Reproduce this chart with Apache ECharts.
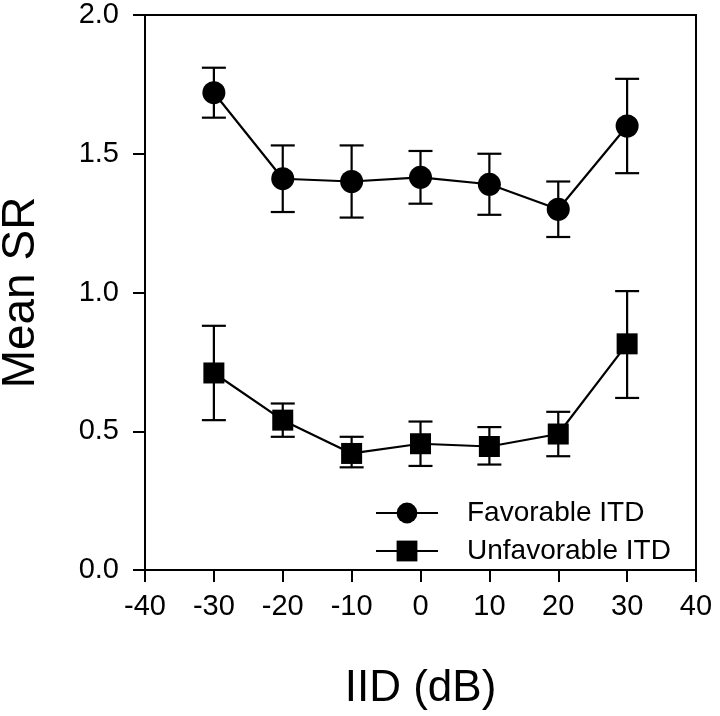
<!DOCTYPE html>
<html>
<head>
<meta charset="utf-8">
<script src="https://cdn.jsdelivr.net/npm/echarts@6/dist/echarts.min.js"></script>
<style>html,body{margin:0;padding:0;background:#fff}#c{width:720px;height:716px}</style>
</head>
<body>
<div id="c"></div>
<script>
const iid = [-30, -20, -10, 0, 10, 20, 30];
const favMean = [1.72, 1.41, 1.40, 1.415, 1.39, 1.30, 1.60];
const favLow  = [1.63, 1.29, 1.27, 1.32, 1.28, 1.20, 1.43];
const favHigh = [1.81, 1.53, 1.53, 1.51, 1.50, 1.40, 1.77];
const unfMean = [0.71, 0.54, 0.42, 0.455, 0.445, 0.49, 0.815];
const unfLow  = [0.54, 0.48, 0.37, 0.375, 0.38, 0.41, 0.62];
const unfHigh = [0.88, 0.60, 0.48, 0.535, 0.515, 0.57, 1.005];
const xTicks = [-40, 40, 10];
const yTicks = [0, 2, 0.5];

const chart = echarts.init(document.getElementById('c'));
function errItem(params, api) {
  const x = api.value(0), lo = api.value(1), hi = api.value(2);
  const p1 = api.coord([x, hi]), p2 = api.coord([x, lo]);
  const w = 12;
  const st = {stroke: '#000', lineWidth: 2.2};
  return {type: 'group', children: [
    {type: 'line', shape: {x1: p1[0], y1: p1[1], x2: p2[0], y2: p2[1]}, style: st},
    {type: 'line', shape: {x1: p1[0] - w, y1: p1[1], x2: p1[0] + w, y2: p1[1]}, style: st},
    {type: 'line', shape: {x1: p2[0] - w, y1: p2[1], x2: p2[0] + w, y2: p2[1]}, style: st}
  ]};
}
const font = 'Liberation Sans, Arial, sans-serif';
chart.setOption({
  animation: false,
  textStyle: {fontFamily: font, color: '#000'},
  grid: {left: 145, right: 24, top: 15, bottom: 146, show: true, borderColor: '#000', borderWidth: 2,
         containLabel: false, outerBoundsMode: 'none'},
  legend: {
    orient: 'vertical', left: 370, top: 494, itemWidth: 62, itemHeight: 26, itemGap: 10,
    textStyle: {fontSize: 28, color: '#000', fontFamily: font, padding: [0, 0, 0, 24]},
    data: ['Favorable ITD', 'Unfavorable ITD']
  },
  xAxis: {
    type: 'value', min: xTicks[0], max: xTicks[1], interval: xTicks[2],
    name: 'IID (dB)', nameLocation: 'middle', nameGap: 97,
    nameTextStyle: {fontSize: 44, color: '#000', fontFamily: font},
    axisLine: {onZero: false, lineStyle: {color: '#000', width: 2}},
    axisTick: {length: 12, lineStyle: {color: '#000', width: 2}},
    axisLabel: {fontSize: 29, color: '#000', margin: 22, fontFamily: font},
    splitLine: {show: false}
  },
  yAxis: {
    type: 'value', min: yTicks[0], max: yTicks[1], interval: yTicks[2],
    name: 'Mean SR', nameLocation: 'middle', nameGap: 101,
    nameTextStyle: {fontSize: 46, color: '#000', fontFamily: font},
    axisLine: {show: true, onZero: false, lineStyle: {color: '#000', width: 2}},
    axisTick: {show: true, length: 12, lineStyle: {color: '#000', width: 2}},
    axisLabel: {fontSize: 29, color: '#000', margin: 26, fontFamily: font, formatter: v => v.toFixed(1)},
    splitLine: {show: false}
  },
  series: [
    {type: 'custom', renderItem: errItem, encode: {x: 0, y: [1, 2]}, z: 1,
     data: iid.map((x, i) => [x, favLow[i], favHigh[i]])},
    {type: 'custom', renderItem: errItem, encode: {x: 0, y: [1, 2]}, z: 1,
     data: iid.map((x, i) => [x, unfLow[i], unfHigh[i]])},
    {name: 'Favorable ITD', type: 'line', z: 3, symbol: 'circle', symbolSize: 23,
     lineStyle: {color: '#000', width: 2.2}, itemStyle: {color: '#000'},
     data: iid.map((x, i) => [x, favMean[i]])},
    {name: 'Unfavorable ITD', type: 'line', z: 3, symbol: 'rect', symbolSize: 21,
     lineStyle: {color: '#000', width: 2.2}, itemStyle: {color: '#000'},
     data: iid.map((x, i) => [x, unfMean[i]])}
  ]
});
</script>
</body>
</html>
